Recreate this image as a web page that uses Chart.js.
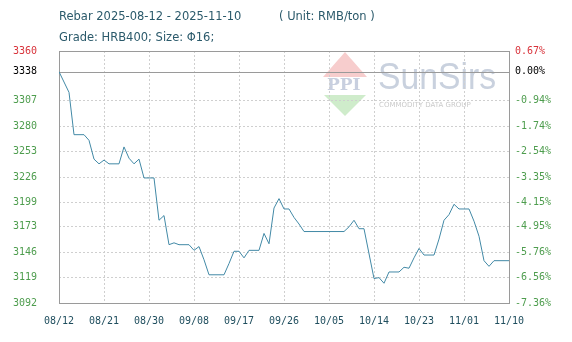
<!DOCTYPE html>
<html>
<head>
<meta charset="utf-8">
<script src="https://cdn.jsdelivr.net/npm/chart.js@4.4.1/dist/chart.umd.min.js"></script>
<style>
  body { margin: 0; background: #fff; }
  #wrap { width: 572px; height: 342px; }
</style>
</head>
<body>
<div id="wrap"><canvas id="rebarChart" width="572" height="342"></canvas></div>
<script>
const titleText = 'Rebar 2025-08-12 - 2025-11-10';
const unitText = '( Unit: RMB/ton )';
const subtitleText = 'Grade: HRB400; Size: \u03A616;';

// x axis: day offsets from 08/12, labels every 9 days
const dateLabels = ['08/12', '08/21', '08/30', '09/08', '09/17', '09/26', '10/05', '10/14', '10/23', '11/01', '11/10'];

const days = [0, 2, 3, 5, 6, 7, 8, 9, 10, 12, 13, 14, 15, 16, 17, 19, 20, 21, 22, 23, 24, 26, 27, 28, 29, 30,
  33, 34, 35, 36, 37, 38, 40, 41, 42, 43, 44, 45, 46, 47, 48, 49, 57, 58, 59, 60, 61, 63, 64, 65, 66, 68,
  69, 70, 71, 72, 73, 75, 76, 77, 78, 79, 80, 82, 83, 84, 85, 86, 87, 90];
const prices = [3338, 3316, 3271, 3271, 3265, 3245, 3240, 3244, 3240, 3240, 3258, 3246, 3240, 3245, 3225, 3225, 3180, 3185, 3154, 3156, 3154, 3154, 3148, 3152, 3138, 3122,
  3122, 3134, 3147, 3147, 3140, 3148, 3148, 3166, 3155, 3193, 3203, 3192, 3192, 3183, 3176, 3168, 3168, 3173, 3180, 3171, 3171, 3118, 3119, 3113, 3125, 3125,
  3130, 3129, 3140, 3150, 3143, 3143, 3160, 3180, 3186, 3197, 3192, 3192, 3179, 3163, 3137, 3131, 3137, 3137];

const priceTicks = [3092, 3119, 3146, 3173, 3199, 3226, 3253, 3280, 3307, 3338, 3360];
const pctTicks = ['-7.36%', '-6.56%', '-5.76%', '-4.95%', '-4.15%', '-3.35%', '-2.54%', '-1.74%', '-0.94%', '0.00%', '0.67%'];
const basePrice = 3338;

const tickFont = { family: 'DejaVu Sans Mono', size: 10 };
const gridColor = '#cfcfcf';
const frameColor = '#9a9a9a';

function tickColor(ctx) {
  const v = ctx.tick.value;
  if (v > basePrice) return '#d8333b';
  if (v === basePrice) return '#000000';
  return '#4e9d4e';
}

const decorPlugin = {
  id: 'decor',
  beforeDraw(chart) {
    const c = chart.ctx;
    c.save();
    // titles
    c.fillStyle = '#2b5a6b';
    c.font = '11.5px "DejaVu Sans"';
    c.textBaseline = 'middle';
    c.fillText(titleText, 59, 17);
    c.fillText(unitText, 279, 17);
    c.fillText(subtitleText, 59, 38);

    // watermark logo
    c.fillStyle = '#f7cdcd';
    c.beginPath();
    c.moveTo(345, 52); c.lineTo(367, 77); c.lineTo(323, 77); c.closePath();
    c.fill();
    c.fillStyle = '#cfeccb';
    c.beginPath();
    c.moveTo(324, 95); c.lineTo(366, 95); c.lineTo(345, 116); c.closePath();
    c.fill();
    c.fillStyle = '#c8cfdf';
    c.font = 'bold 17px "DejaVu Serif"';
    c.fillText('PPI', 327, 86, 48);
    c.fillStyle = '#c9d1de';
    c.font = '36px "Liberation Sans"';
    c.fillText('SunSirs', 378, 79, 118);
    c.fillStyle = '#cacaca';
    c.font = '7px "DejaVu Sans"';
    c.fillText('COMMODITY DATA GROUP', 379, 105, 116);
    c.restore();
  },
  beforeDatasetsDraw(chart) {
    const c = chart.ctx;
    const a = chart.chartArea;
    const yb = Math.round(chart.scales.y.getPixelForValue(basePrice)) + 0.5;
    c.save();
    c.strokeStyle = frameColor;
    c.lineWidth = 1;
    c.beginPath();
    c.moveTo(a.left, yb); c.lineTo(a.right, yb);
    c.stroke();
    c.strokeRect(Math.round(a.left) + 0.5, Math.round(a.top) + 0.5, Math.round(a.right - a.left), Math.round(a.bottom - a.top));
    c.restore();
  }
};

const ctx = document.getElementById('rebarChart').getContext('2d');
const rebarChart = new Chart(ctx, {
  type: 'line',
  data: {
    datasets: [{
      data: days.map((d, i) => ({ x: d, y: prices[i] })),
      borderColor: '#4289a6',
      borderWidth: 1,
      pointRadius: 0,
      tension: 0,
      fill: false
    }]
  },
  options: {
    responsive: false,
    animation: false,
    devicePixelRatio: 1,
    layout: { padding: { top: 51, left: 0, right: 0, bottom: 0 } },
    plugins: { legend: { display: false }, tooltip: { enabled: false } },
    scales: {
      x: {
        type: 'linear',
        min: 0,
        max: 90,
        afterFit: s => { s.height = 39; },
        ticks: {
          stepSize: 9,
          autoSkip: false,
          maxRotation: 0,
          padding: 12,
          color: '#1f4e5e',
          font: tickFont,
          callback: v => dateLabels[Math.round(v / 9)]
        },
        grid: { color: gridColor, drawTicks: false },
        border: { display: false, dash: [2, 2] }
      },
      y: {
        position: 'left',
        min: 3092,
        max: 3360,
        afterFit: s => { s.width = 59; },
        afterBuildTicks: s => { s.ticks = priceTicks.map(v => ({ value: v })); },
        ticks: { padding: 22, color: tickColor, font: tickFont, callback: v => String(v) },
        grid: { color: c => c.tick && c.tick.value === basePrice ? 'rgba(0,0,0,0)' : gridColor, drawTicks: false },
        border: { display: false, dash: [2, 2] }
      },
      y2: {
        position: 'right',
        min: 3092,
        max: 3360,
        afterFit: s => { s.width = 63; },
        afterBuildTicks: s => { s.ticks = priceTicks.map(v => ({ value: v })); },
        ticks: { padding: 6, color: tickColor, font: tickFont, callback: (v, i) => pctTicks[i] },
        grid: { display: false, drawTicks: false },
        border: { display: false }
      }
    }
  },
  plugins: [decorPlugin]
});
</script>
</body>
</html>
